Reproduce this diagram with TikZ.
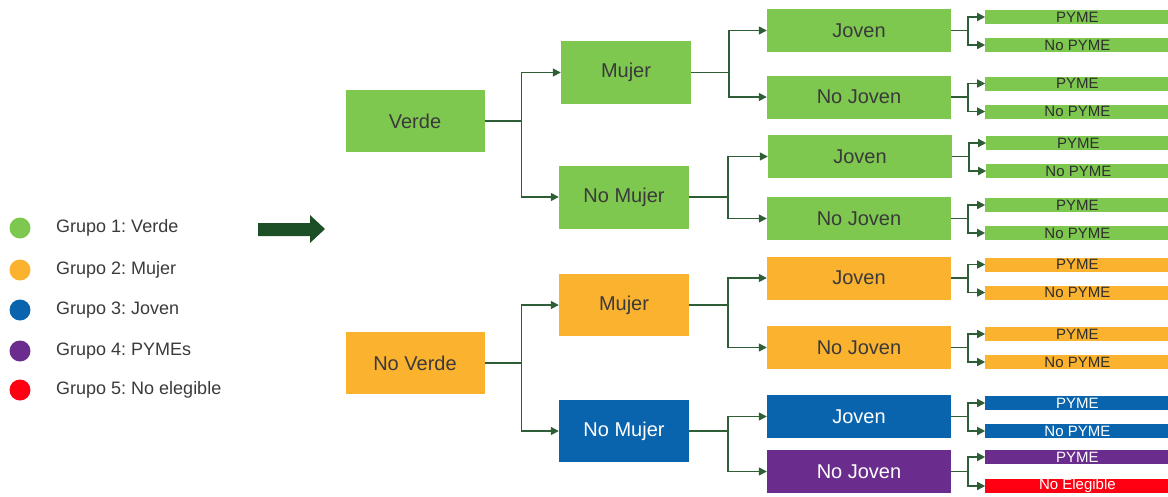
\documentclass[tikz,border=0pt]{standalone}
\usepackage{fontspec}
\setmainfont{Liberation Sans}
\usetikzlibrary{calc,arrows.meta}
\frenchspacing

\definecolor{cverde}{HTML}{7EC850}
\definecolor{cmujer}{HTML}{FBB22F}
\definecolor{cjoven}{HTML}{0A64AD}
\definecolor{cpyme}{HTML}{6A2C8D}
\definecolor{cnoeleg}{HTML}{FF0012}
\definecolor{cline}{HTML}{2E5E36}
\definecolor{carrow}{HTML}{1D4F26}
\definecolor{ctext}{HTML}{3A3A3A}

\begin{document}
\begin{tikzpicture}[x=1pt, y=-1pt,
	box/.style={inner sep=0pt, text=ctext, font=\fontsize{20}{24}\selectfont},
	leaf/.style={inner sep=0pt, text=ctext!80!black, minimum width=184pt, minimum height=14pt, font=\fontsize{15}{15}\selectfont},
	gfill/.style={fill=cverde},
	ofill/.style={fill=cmujer},
	bfill/.style={fill=cjoven, text=white},
	pfill/.style={fill=cpyme, text=white},
	rfill/.style={fill=cnoeleg, text=white},
	conn/.style={draw=cline, line width=1.5pt, -{Triangle[length=8pt,width=8pt]}},
	legtext/.style={anchor=west, inner sep=0pt, text=ctext, font=\fontsize{18}{20}\selectfont}]
	\useasboundingbox (0,0) rectangle (1168,496);

	% legend
	\foreach \i/\y/\c/\t in {1/228/cverde/Verde, 2/270/cmujer/Mujer, 3/310/cjoven/Joven, 4/351/cpyme/PYMEs, 5/390/cnoeleg/No elegible} {
		\node[circle, fill=\c, minimum size=21pt, inner sep=0pt] (dot\i) at (20,\y) {};
		\node[legtext] (lab\i) at (56,\y) {Grupo \i: \t};
	}

	% big arrow
	\fill[carrow] (258,223) -- (310,223) -- (310,215) -- (325,229) -- (310,243) -- (310,236) -- (258,236) -- cycle;

	% first level
	\node[box, gfill, minimum width=139pt, minimum height=62pt] (verde) at (415,121) {Verde};
	\node[box, ofill, minimum width=139pt, minimum height=62pt] (noverde) at (415,363) {No Verde};

	% second level
	\node[box, gfill, minimum width=130pt, minimum height=63pt] (mujer1) at (626,72.5) {Mujer};
	\node[box, gfill, minimum width=130pt, minimum height=63pt] (nomujer1) at (624,197) {No Mujer};
	\node[box, ofill, minimum width=130pt, minimum height=62pt] (mujer2) at (624,305) {Mujer};
	\node[box, bfill, minimum width=130pt, minimum height=62pt] (nomujer2) at (624,431) {No Mujer};

	\draw[conn] (verde.east) -- ++(37,0) |- (mujer1.west);
	\draw[conn] (verde.east) -- ++(37,0) |- (nomujer1.west);
	\draw[conn] (noverde.east) -- ++(37,0) |- (mujer2.west);
	\draw[conn] (noverde.east) -- ++(37,0) |- (nomujer2.west);

	% third level
	\node[box, gfill, minimum width=184pt, minimum height=43pt] (jv1) at (859,30.5) {Joven};
	\node[box, gfill, minimum width=184pt, minimum height=43pt] (njv1) at (859,97) {No Joven};
	\node[box, gfill, minimum width=184pt, minimum height=43pt] (jv2) at (860,156.5) {Joven};
	\node[box, gfill, minimum width=184pt, minimum height=43pt] (njv2) at (859,218.5) {No Joven};
	\node[box, ofill, minimum width=184pt, minimum height=43pt] (jv3) at (859,278) {Joven};
	\node[box, ofill, minimum width=184pt, minimum height=43pt] (njv3) at (859,347.5) {No Joven};
	\node[box, bfill, minimum width=184pt, minimum height=43pt] (jv4) at (859,416.5) {Joven};
	\node[box, pfill, minimum width=184pt, minimum height=43pt] (njv4) at (859,471.5) {No Joven};

	\draw[conn] (mujer1.east) -- ++(38,0) |- (jv1.west);
	\draw[conn] (mujer1.east) -- ++(38,0) |- (njv1.west);
	\draw[conn] (nomujer1.east) -- ++(39,0) |- (jv2.west);
	\draw[conn] (nomujer1.east) -- ++(39,0) |- (njv2.west);
	\draw[conn] (mujer2.east) -- ++(39,0) |- (jv3.west);
	\draw[conn] (mujer2.east) -- ++(39,0) |- (njv3.west);
	\draw[conn] (nomujer2.east) -- ++(39,0) |- (jv4.west);
	\draw[conn] (nomujer2.east) -- ++(39,0) |- (njv4.west);

	% leaves
	\foreach \n/\c in {jv1/gfill, njv1/gfill, jv2/gfill, njv2/gfill, jv3/ofill, njv3/ofill, jv4/bfill} {
		\node[leaf, \c, anchor=north west] (\n-a) at ($(\n.north east)+(34,1)$) {PYME};
		\node[leaf, \c, anchor=south west] (\n-b) at ($(\n.south east)+(34,0)$) {No PYME};
		\draw[conn] (\n.east) -- ++(17,0) |- (\n-a.west);
		\draw[conn] (\n.east) -- ++(17,0) |- (\n-b.west);
	}
	\node[leaf, pfill, anchor=north west] (njv4-a) at ($(njv4.north east)+(34,0)$) {PYME};
	\node[leaf, rfill, anchor=south west] (njv4-b) at ($(njv4.south east)+(34,0)$) {No Elegible};
	\draw[conn] (njv4.east) -- ++(17,0) |- (njv4-a.west);
	\draw[conn] (njv4.east) -- ++(17,0) |- (njv4-b.west);
\end{tikzpicture}
\end{document}
